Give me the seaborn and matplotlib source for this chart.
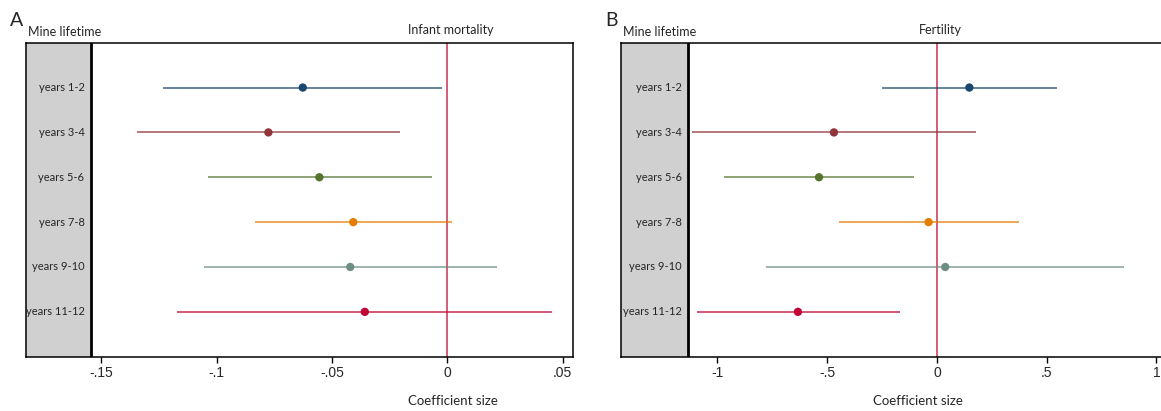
import numpy as np
import pandas as pd
import matplotlib
matplotlib.use("Agg")
import matplotlib.pyplot as plt
import seaborn as sns

# categories (rows)
periods = ["years 1-2", "years 3-4", "years 5-6", "years 7-8", "years 9-10", "years 11-12"]
colors = ["#1a476f", "#90353b", "#55752f", "#e37e00", "#6e8e84", "#c10534"]

# panel A: infant mortality
im_coef = [-0.0627, -0.0776, -0.0555, -0.0408, -0.0421, -0.0358]
im_lo = [-0.1233, -0.1346, -0.1039, -0.0835, -0.1054, -0.1171]
im_hi = [-0.0022, -0.0206, -0.0068, 0.0020, 0.0217, 0.0454]
im_ticks = [-0.15, -0.1, -0.05, 0, 0.05]
im_ticklabels = ["-.15", "-.1", "-.05", "0", ".05"]

# panel B: fertility
fe_coef = [0.148, -0.469, -0.537, -0.038, 0.038, -0.633]
fe_lo = [-0.252, -1.114, -0.972, -0.448, -0.779, -1.093]
fe_hi = [0.548, 0.179, -0.102, 0.373, 0.853, -0.168]
fe_ticks = [-1, -0.5, 0, 0.5, 1]
fe_ticklabels = ["-1", "-.5", "0", ".5", "1"]

sns.set_style("white")
plt.rcParams["font.family"] = ["Lato", "DejaVu Sans"]

W, H = 1161, 411
fig = plt.figure(figsize=(W / 100, H / 100), dpi=100)

def fx(px):
    return px / W

def fy(py):
    return 1 - py / H

def panel(left_px, right_px, xlim, band_edge, coef, lo, hi, ticks, ticklabels,
          letter, title, title_x, xlab_x, lab_right):
    top_px, bot_px = 42.7, 356.7
    ax = fig.add_axes([fx(left_px), fy(bot_px), fx(right_px - left_px), (bot_px - top_px) / H])
    df = pd.DataFrame({"period": periods, "coef": coef, "lo": lo, "hi": hi})
    df["pos"] = np.arange(1, len(periods) + 1)

    # grey label column + thick divider, red zero line
    ax.axvspan(xlim[0], band_edge, color="#d0d0d0", zorder=0)
    ax.axvline(band_edge, color="black", lw=2.0, zorder=3)
    ax.axvline(0, color="#c8324f", lw=1.1, zorder=1)
    ax.hlines(df["pos"], df["lo"], df["hi"], colors=colors, lw=1.1, alpha=0.85, zorder=2)
    sns.scatterplot(data=df, x="coef", y="pos", hue="period", palette=colors,
                    s=36, edgecolor="none", legend=False, ax=ax, zorder=4)

    ax.set_xlim(xlim)
    ax.set_ylim(len(periods) + 1, 0)
    ax.set_xticks(ticks)
    ax.set_xticklabels(ticklabels, fontfamily="Liberation Sans", fontsize=10)
    ax.set_yticks([])
    ax.set_xlabel("")
    ax.set_ylabel("")
    ax.tick_params(axis="x", direction="out", length=4, width=1, color="black", pad=3, bottom=True)
    for sp in ax.spines.values():
        sp.set_color("black")
        sp.set_linewidth(1.1)

    for p, lab in zip(df["pos"], df["period"]):
        ax.text(lab_right, p, lab, transform=ax.get_yaxis_transform(), ha="right",
                va="center", fontsize=8)

    fig.text(fx(left_px - 16), fy(20), letter, fontsize=14, ha="left", va="center")
    fig.text(fx(left_px + 2), fy(32), "Mine lifetime", fontsize=9, ha="left", va="center")
    fig.text(fx(title_x), fy(30), title, fontsize=9, ha="center", va="center")
    fig.text(fx(xlab_x), fy(401), "Coefficient size", fontsize=9.5, ha="center", va="center")
    return ax

panel(26, 573.3, (-0.1827, 0.0546), -0.1546, im_coef, im_lo, im_hi, im_ticks, im_ticklabels,
      "A", "Infant mortality", 451, 453, (84.5 - 26) / (573.3 - 26))
panel(621.3, 1163, (-1.4376, 1.030), -1.1325, fe_coef, fe_lo, fe_hi, fe_ticks, fe_ticklabels,
      "B", "Fertility", 940, 918, (681.5 - 621.3) / (1163 - 621.3))

fig.savefig("out.png", dpi=100)
